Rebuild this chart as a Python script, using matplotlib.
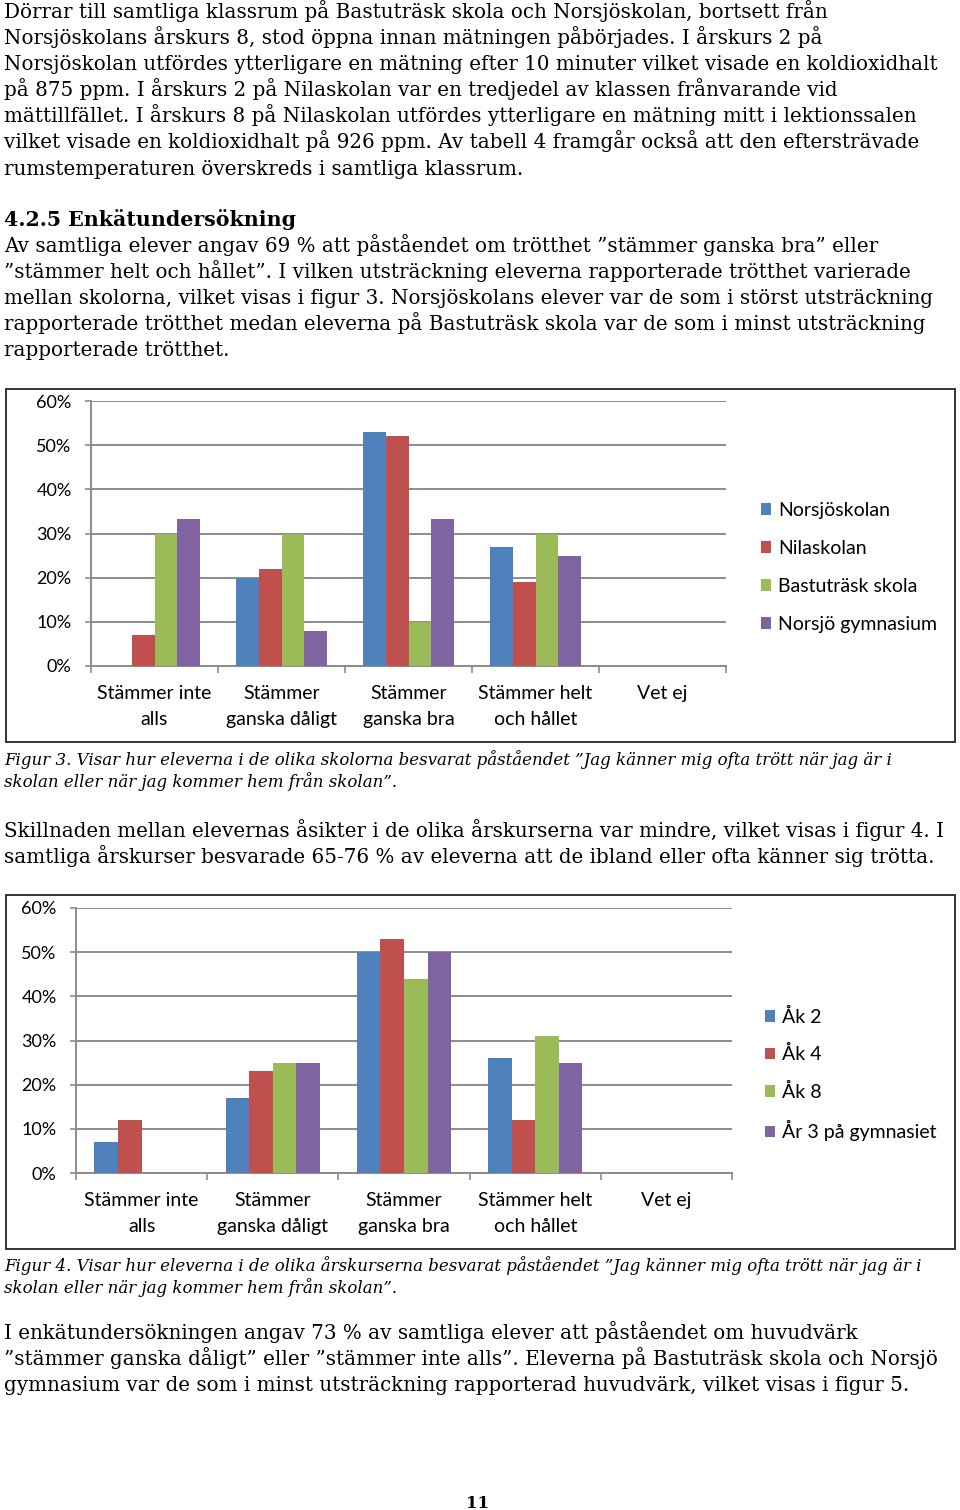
import matplotlib.pyplot as plt
from matplotlib.patches import Rectangle
import numpy as np

W, H = 960, 1510

categories = ["Stämmer inte\nalls", "Stämmer\nganska dåligt", "Stämmer\nganska bra",
              "Stämmer helt\noch hållet", "Vet ej"]

# figur 3 - skolorna (procent)
schools = ["Norsjöskolan", "Nilaskolan", "Bastuträsk skola", "Norsjö gymnasium"]
norsjoskolan = [0, 20, 53, 27, 0]
nilaskolan = [7, 22, 52, 19, 0]
bastutrask = [30, 30, 10, 30, 0]
norsjo_gymnasium = [33.3, 8, 33.3, 25, 0]

# figur 4 - årskurserna (procent)
grades = ["Åk 2", "Åk 4", "Åk 8", "År 3 på gymnasiet"]
ak2 = [7, 17, 50, 26, 0]
ak4 = [12, 23, 53, 12, 0]
ak8 = [0, 25, 44, 31, 0]
ar3_gymnasiet = [0, 25, 50, 25, 0]

yticks = [0, 10, 20, 30, 40, 50, 60]

colors = ['#4F81BD', '#C0504D', '#9BBB59', '#8064A2']

para1 = [
    "Dörrar till samtliga klassrum på Bastuträsk skola och Norsjöskolan, bortsett från",
    "Norsjöskolans årskurs 8, stod öppna innan mätningen påbörjades. I årskurs 2 på",
    "Norsjöskolan utfördes ytterligare en mätning efter 10 minuter vilket visade en koldioxidhalt",
    "på 875 ppm. I årskurs 2 på Nilaskolan var en tredjedel av klassen frånvarande vid",
    "mättillfället. I årskurs 8 på Nilaskolan utfördes ytterligare en mätning mitt i lektionssalen",
    "vilket visade en koldioxidhalt på 926 ppm. Av tabell 4 framgår också att den eftersträvade",
    "rumstemperaturen överskreds i samtliga klassrum.",
]
heading = "4.2.5 Enkätundersökning"
para2 = [
    "Av samtliga elever angav 69 % att påståendet om trötthet ”stämmer ganska bra” eller",
    "”stämmer helt och hållet”. I vilken utsträckning eleverna rapporterade trötthet varierade",
    "mellan skolorna, vilket visas i figur 3. Norsjöskolans elever var de som i störst utsträckning",
    "rapporterade trötthet medan eleverna på Bastuträsk skola var de som i minst utsträckning",
    "rapporterade trötthet.",
]
caption3 = [
    "Figur 3. Visar hur eleverna i de olika skolorna besvarat påståendet ”Jag känner mig ofta trött när jag är i",
    "skolan eller när jag kommer hem från skolan”.",
]
para3 = [
    "Skillnaden mellan elevernas åsikter i de olika årskurserna var mindre, vilket visas i figur 4. I",
    "samtliga årskurser besvarade 65-76 % av eleverna att de ibland eller ofta känner sig trötta.",
]
caption4 = [
    "Figur 4. Visar hur eleverna i de olika årskurserna besvarat påståendet ”Jag känner mig ofta trött när jag är i",
    "skolan eller när jag kommer hem från skolan”.",
]
para4 = [
    "I enkätundersökningen angav 73 % av samtliga elever att påståendet om huvudvärk",
    "”stämmer ganska dåligt” eller ”stämmer inte alls”. Eleverna på Bastuträsk skola och Norsjö",
    "gymnasium var de som i minst utsträckning rapporterad huvudvärk, vilket visas i figur 5.",
]

SERIF = 'DejaVu Serif'
SANS = 'Lato'
BODY = 14.3
CAP = 12.0

fig = plt.figure(figsize=(W / 100, H / 100), dpi=100)


def fx(x):
    return x / W


def fy(y):
    return 1 - y / H


def write_lines(lines, first_baseline, step, **kw):
    for i, line in enumerate(lines):
        fig.text(fx(4), fy(first_baseline + i * step), line, ha='left', va='baseline', **kw)


def bar_chart(frame, axbox, series, labels, legend_xy, legend_spacing):
    fig.patches.append(Rectangle((fx(frame[0]), fy(frame[3])), (frame[2] - frame[0]) / W,
                                 (frame[3] - frame[1]) / H, transform=fig.transFigure,
                                 fill=False, lw=1.4, ec='#333333'))
    ax = fig.add_axes([fx(axbox[0]), fy(axbox[3]), (axbox[2] - axbox[0]) / W,
                       (axbox[3] - axbox[1]) / H])
    x = np.arange(len(categories))
    w = 0.18
    for i, (vals, lab) in enumerate(zip(series, labels)):
        ax.bar(x + (i - 1.5) * w, np.array(vals) / 100, w, color=colors[i], label=lab, zorder=3)
    ax.set_xlim(-0.5, 4.5)
    ax.set_ylim(0, 0.6)
    ax.set_yticks([v / 100 for v in yticks])
    ax.set_yticklabels([f"{v}%" for v in yticks], fontsize=13, family=SANS)
    ax.set_xticks(x)
    ax.set_xticklabels(categories, fontsize=14, family=SANS, linespacing=1.6)
    ax.set_xticks(np.arange(-0.5, 4.6, 1), minor=True)
    ax.tick_params(axis='x', which='major', length=0, pad=14)
    ax.tick_params(axis='x', which='minor', length=5, width=1.2, color='#8c8c8c')
    ax.tick_params(axis='y', length=4, width=1.2, color='#8c8c8c', pad=10)
    ax.yaxis.grid(True, color='#8c8c8c', lw=1.4)
    ax.set_axisbelow(True)
    for s in ['top', 'right']:
        ax.spines[s].set_visible(False)
    for s in ['left', 'bottom']:
        ax.spines[s].set_color('#8c8c8c')
        ax.spines[s].set_linewidth(1.4)
    ax.legend(loc='center left', bbox_to_anchor=(fx(legend_xy[0]), fy(legend_xy[1])),
              bbox_transform=fig.transFigure, frameon=False, prop={'family': SANS, 'size': 14},
              handlelength=0.52, handleheight=0.52, handletextpad=0.35,
              labelspacing=legend_spacing, borderpad=0, borderaxespad=0)
    return ax


write_lines(para1, 18, 26.1, fontsize=BODY, family=SERIF)
fig.text(fx(4), fy(226), heading, ha='left', va='baseline', fontsize=14.8, family=SERIF,
         fontweight='bold')
write_lines(para2, 252, 26.1, fontsize=BODY, family=SERIF)

bar_chart((6, 389, 955, 742), (91, 401, 726, 666),
          [norsjoskolan, nilaskolan, bastutrask, norsjo_gymnasium], schools, (761, 567.5), 1.08)
write_lines(caption3, 765, 22, fontsize=CAP, family=SERIF, style='italic')
write_lines(para3, 837, 26.1, fontsize=BODY, family=SERIF)

bar_chart((6, 895, 955, 1249), (76, 908, 732, 1173),
          [ak2, ak4, ak8, ar3_gymnasiet], grades, (765, 1074.5), 1.0)
write_lines(caption4, 1271, 22, fontsize=CAP, family=SERIF, style='italic')
write_lines(para4, 1339, 26.1, fontsize=BODY, family=SERIF)

fig.text(fx(478), fy(1508), "11", ha='center', va='baseline', fontsize=12, family=SERIF,
         fontweight='bold')

fig.savefig('out.png', dpi=100)
